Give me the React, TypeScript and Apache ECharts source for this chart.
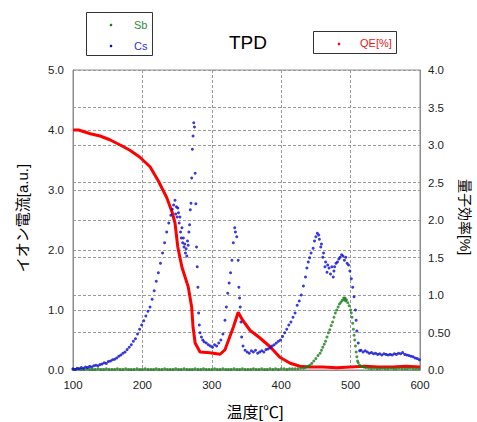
import React, { useEffect, useRef } from "react";
import * as echarts from "echarts";

const xTicks = [100, 200, 300, 400, 500, 600];
const leftTicks = ["0.0", "1.0", "2.0", "3.0", "4.0", "5.0"];
const rightTicks = ["0.0", "0.50", "1.0", "1.5", "2.0", "2.5", "3.0", "3.5", "4.0"];

const csT = [100,103,106,109,112,115,118,121,124,127,130,133,136,139,142,145,148,151,154,157,160,163,166,169,172,175,178,181,184,187,190,193,196,199,202,205,208,211,214,217,220,223,226,229,232,235,238,241,243,245,247,
248,249,250,251,252,253,254,255,256,257,258,259,260,261,262,263,264,265,266,267,268,269,270,271,272,273,274,275,276,277,278,279,280,281,282,283,285,287,
289,292,295,298,301,304,307,310,313,316,319,321,323,325,327,329,331,333,334,336,338,339,340,341,342,343,345,348,351,354,357,360,363,366,369,372,375,378,381,384,387,390,393,396,399,402,405,408,411,414,417,420,423,426,429,432,435,437,439,441,443,446,448,450,452,454,455,457,458,460,461,463,464,466,467,469,471,473,475,476,477,479,481,483,485,487,489,491,493,495,497,499,501,503,505,507,508,509,511,513,515,518,521,524,527,530,533,536,539,542,545,548,551,554,557,560,563,566,569,572,575,578,581,584,587,590,593,596,599];
const csV = [0.02,0.01,0.03,0.02,0.04,0.03,0.05,0.04,0.06,0.05,0.07,0.08,0.07,0.09,0.1,0.12,0.11,0.14,0.15,0.17,0.18,0.2,0.23,0.25,0.28,0.3,0.34,0.38,0.42,0.48,0.52,0.6,0.68,0.75,0.82,0.9,0.98,1.05,1.18,1.32,1.48,1.62,1.78,1.95,2.12,2.3,2.45,2.58,2.68,2.75,2.83,
2.6,2.72,2.55,2.7,2.62,2.45,2.55,2.3,2.2,2.37,2.12,2.2,2.05,2.1,1.95,2.02,1.9,2.15,2.08,2.3,2.42,2.67,2.78,3.2,3.68,3.9,4.12,4.05,3.28,2.77,2.05,1.72,1.38,0.95,0.75,0.62,0.55,0.5,
0.47,0.45,0.42,0.4,0.38,0.42,0.4,0.45,0.5,0.6,0.83,1.05,1.28,1.45,1.62,1.83,2.12,2.37,2.3,2.22,1.83,1.38,1.2,1.05,0.8,0.55,0.4,0.33,0.3,0.28,0.32,0.3,0.33,0.28,0.3,0.32,0.3,0.34,0.35,0.37,0.4,0.42,0.45,0.48,0.5,0.56,0.62,0.68,0.75,0.8,0.88,0.95,1.08,1.15,1.25,1.4,1.55,1.7,1.8,1.87,1.95,2.03,2.15,2.22,2.28,2.25,2.18,2.05,2.1,1.88,1.95,1.72,1.8,1.63,1.75,1.7,1.6,1.72,1.55,1.65,1.72,1.78,1.8,1.85,1.88,1.92,1.9,1.83,1.88,1.78,1.75,1.65,1.52,1.38,1.22,1.0,0.83,0.65,0.45,0.32,0.33,0.3,0.32,0.3,0.28,0.29,0.27,0.28,0.26,0.27,0.25,0.27,0.26,0.25,0.26,0.25,0.27,0.26,0.28,0.27,0.29,0.26,0.25,0.24,0.23,0.22,0.2,0.19,0.17];

const sbT = [100,104,108,112,116,120,124,128,132,136,140,144,148,152,156,160,164,168,172,176,180,184,188,192,196,200,204,208,212,216,220,224,228,232,236,240,244,248,252,256,260,264,268,272,276,280,284,288,292,296,300,304,308,312,316,320,324,328,332,336,340,344,348,352,356,360,364,368,372,376,380,384,388,392,396,400,404,408,412,416,420,424,428,
432,435,438,441,444,447,450,453,456,458,460,462,464,466,468,470,472,474,476,478,480,482,484,486,488,490,491,492,493,494,496,498,500,501,502,503,504,505,506,507,508,509,510,511,513,516,519,522,526,
530,534,538,542,546,550,554,558,562,566,570,574,578,582,586,590,594,598];
const sbV = [0.01,0.01,0.02,0.01,0.01,0.02,0.01,0.01,0.01,0.02,0.01,0.01,0.02,0.01,0.01,0.01,0.02,0.01,0.01,0.02,0.01,0.01,0.01,0.02,0.01,0.01,0.02,0.01,0.01,0.01,0.02,0.01,0.01,0.02,0.01,0.01,0.01,0.02,0.01,0.01,0.02,0.01,0.01,0.01,0.02,0.01,0.01,0.02,0.01,0.01,0.01,0.02,0.01,0.01,0.02,0.01,0.01,0.01,0.02,0.01,0.01,0.02,0.01,0.01,0.01,0.02,0.01,0.01,0.02,0.01,0.01,0.02,0.01,0.02,0.01,0.02,0.02,0.01,0.02,0.02,0.02,0.02,0.03,
0.03,0.04,0.06,0.08,0.11,0.15,0.19,0.24,0.28,0.33,0.38,0.43,0.48,0.55,0.62,0.67,0.74,0.8,0.88,0.95,1.0,1.05,1.1,1.13,1.16,1.2,1.17,1.2,1.15,1.17,1.12,1.07,1.0,0.95,0.88,0.78,0.68,0.58,0.5,0.4,0.3,0.22,0.15,0.12,0.08,0.06,0.05,0.04,0.03,
0.02,0.03,0.02,0.02,0.03,0.02,0.02,0.03,0.02,0.02,0.03,0.02,0.02,0.02,0.03,0.02,0.02,0.02];

const qeT = [100,108,115,125,139,153,168,182,196,211,223,235,243,247,251,257,266,271,273,276,283,297,312,319,331,338,344,355,369,384,398,413,427,440,460,480,500,520,540,560,580,600];
const qeV = [3.2,3.2,3.18,3.15,3.12,3.07,3.0,2.93,2.84,2.71,2.52,2.3,2.1,1.96,1.64,1.37,1.11,0.84,0.57,0.36,0.24,0.23,0.21,0.27,0.57,0.77,0.67,0.53,0.43,0.31,0.17,0.09,0.05,0.04,0.04,0.03,0.04,0.05,0.04,0.04,0.05,0.04];

const zip = (a: number[], b: number[]) => a.map((t, i) => [t, b[i]]);

const FONT = "'Liberation Sans', Arial, 'Noto Sans CJK JP', sans-serif";

export default function App() {
  const ref = useRef<HTMLDivElement>(null);
  useEffect(() => {
    const chart = echarts.init(ref.current!, undefined, { renderer: "svg" });
    const splitLine = { show: true, lineStyle: { color: "#9a9a9a", type: [3, 2] as any, width: 1 } };
    chart.setOption({
      animation: false,
      textStyle: { fontFamily: FONT },
      grid: { left: 73, right: 57, top: 70, bottom: 52, show: true, borderColor: "#8c8c8c", borderWidth: 1 },
      xAxis: {
        type: "value", min: 100, max: 600, interval: 100,
        axisLine: { show: true, lineStyle: { color: "#8c8c8c" } },
        axisTick: { show: false },
        axisLabel: { color: "#222", fontSize: 11.5, margin: 9, formatter: (v: number) => (xTicks.includes(v) ? String(v) : "") },
        splitLine,
      },
      yAxis: [
        {
          type: "value", min: 0, max: 5, interval: 1, position: "left",
          axisLine: { show: true, lineStyle: { color: "#8c8c8c" } },
          axisTick: { show: false },
          axisLabel: { color: "#222", fontSize: 11.5, margin: 9, formatter: (v: number) => leftTicks[Math.round(v)] },
          splitLine,
        },
        {
          type: "value", min: 0, max: 4, interval: 0.5, position: "right",
          axisLine: { show: true, lineStyle: { color: "#8c8c8c" } },
          axisTick: { show: false },
          axisLabel: { color: "#222", fontSize: 11.5, margin: 8, formatter: (v: number) => rightTicks[Math.round(v * 2)] },
          splitLine,
        },
      ],
      series: [
        {
          type: "line", yAxisIndex: 1, data: zip(qeT, qeV), showSymbol: false, symbol: "none",
          lineStyle: { color: "#ff0000", width: 3 }, z: 1,
        },
        {
          type: "scatter", yAxisIndex: 0, data: zip(sbT, sbV), symbolSize: 3,
          itemStyle: { color: "#1a7d1a" }, z: 2,
        },
        {
          type: "scatter", yAxisIndex: 0, data: zip(csT, csV), symbolSize: 3,
          itemStyle: { color: "#0a0ad0" }, z: 3,
        },
      ],
      graphic: [
        { type: "text", left: "center", top: 0, x: 0, y: 0, style: { text: "" } },
        { type: "text", x: 248, y: 42, style: { text: "TPD", fontSize: 19, fontFamily: FONT, fill: "#000", textAlign: "center", textVerticalAlign: "middle" } },
        { type: "rect", shape: { x: 86.5, y: 12.5, width: 66, height: 43 }, style: { fill: "#fff", stroke: "#333", lineWidth: 1 } },
        { type: "circle", shape: { cx: 111, cy: 25, r: 1.3 }, style: { fill: "#1a7d1a" } },
        { type: "text", x: 134, y: 25, style: { text: "Sb", fontSize: 11, fontFamily: FONT, fill: "#2e8b3a", textVerticalAlign: "middle" } },
        { type: "circle", shape: { cx: 111, cy: 46, r: 1.3 }, style: { fill: "#0a0ad0" } },
        { type: "text", x: 134, y: 46, style: { text: "Cs", fontSize: 11, fontFamily: FONT, fill: "#3333c8", textVerticalAlign: "middle" } },
        { type: "rect", shape: { x: 313.5, y: 31.5, width: 83, height: 22 }, style: { fill: "#fff", stroke: "#333", lineWidth: 1 } },
        { type: "circle", shape: { cx: 339, cy: 44, r: 1.3 }, style: { fill: "#ff0000" } },
        { type: "text", x: 360, y: 43, style: { text: "QE[%]", fontSize: 11, fontFamily: FONT, fill: "#e02020", textVerticalAlign: "middle" } },
        { type: "text", x: 22, y: 218, rotation: Math.PI / 2, style: { text: "イオン電流[a.u.]", fontSize: 15, fontFamily: FONT, fill: "#000", textAlign: "center", textVerticalAlign: "middle" } },
        { type: "text", x: 465, y: 217, rotation: -Math.PI / 2, style: { text: "量子効率[%]", fontSize: 14, fontFamily: FONT, fill: "#000", textAlign: "center", textVerticalAlign: "middle" } },
        { type: "text", x: 255, y: 412, style: { text: "温度[℃]", fontSize: 16, fontFamily: FONT, fill: "#000", textAlign: "center", textVerticalAlign: "middle" } },
      ],
    });
    return () => chart.dispose();
  }, []);
  return <div ref={ref} style={{ width: 477, height: 422, position: "absolute", left: 0, top: 0 }} />;
}
